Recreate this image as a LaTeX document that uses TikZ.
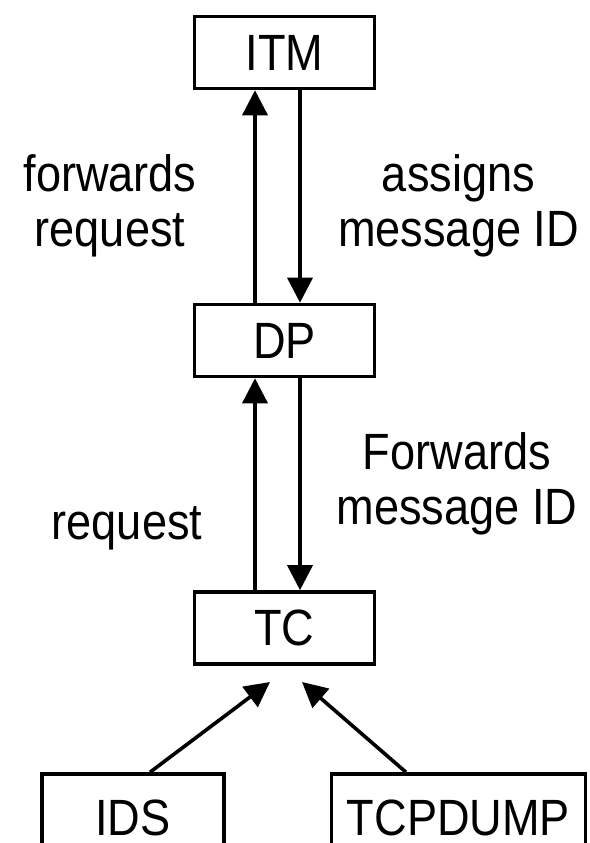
\documentclass[tikz,border=0pt]{standalone}
\usepackage{fontspec}
\setmainfont[FakeStretch=0.885]{Liberation Sans}
\usetikzlibrary{arrows.meta}
\begin{document}
\begin{tikzpicture}[x=1pt,y=-1pt,
  bigfont/.style={font=\fontsize{51}{55}\selectfont},
  box/.style={draw,line width=3.6pt,minimum width=180pt,minimum height=72pt,inner sep=0pt,bigfont},
  lbl/.style={bigfont,inner sep=0pt,align=center,anchor=base},
  conn/.style={line width=3.6pt,-{Triangle[length=25pt,width=25pt]}}]
\useasboundingbox (0,0) rectangle (589,843);
\node[box] (ITM) at (284.5,52.5) {ITM};
\node[box] (DP) at (284.5,340.5) {DP};
\node[box] (TC) at (284.5,628) {TC};
\node[box,minimum width=182pt,minimum height=88pt] (IDS) at (133,818) {IDS};
\node[box,minimum width=254pt,minimum height=88pt] (TCPDUMP) at (458.5,818) {TCPDUMP};
\coordinate (tl) at (270,682);
\coordinate (tr) at (302,682);
\draw[conn] ([xshift=-29.5pt]DP.north) -- ([xshift=-29.5pt]ITM.south);
\draw[conn] ([xshift=15.5pt]ITM.south) -- ([xshift=15.5pt]DP.north);
\draw[conn] ([xshift=-29.5pt]TC.north) -- ([xshift=-29.5pt]DP.south);
\draw[conn] ([xshift=15.5pt]DP.south) -- ([xshift=15.5pt]TC.north);
\draw[conn] ([xshift=17pt]IDS.north) -- (tl);
\draw[conn] ([xshift=-52.5pt]TCPDUMP.north) -- (tr);
\node[lbl] (l1) at (110,246) {forwards\\request};
\node[lbl] (l2) at (458.5,246) {assigns\\message ID};
\node[lbl] (l3) at (127,539) {request};
\node[lbl] (l4) at (457,524) {Forwards\\message ID};
\end{tikzpicture}
\end{document}
